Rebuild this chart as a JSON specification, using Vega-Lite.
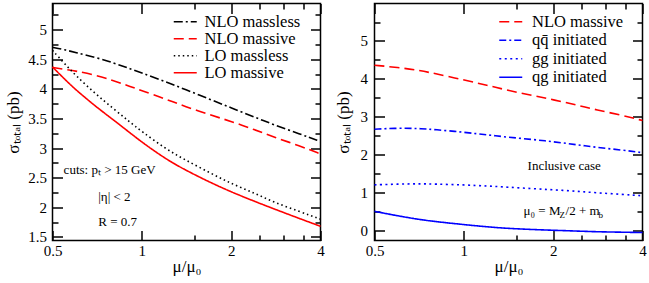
{
  "$schema": "https://vega.github.io/schema/vega-lite/v6.json",
  "padding": {"left": 3.5, "top": 1.5, "right": 0, "bottom": 0},
  "background": "white",
  "spacing": 54,
  "bounds": "flush",
  "config": {
    "view": {"stroke": "#000", "strokeWidth": 1.5},
    "axis": {"labelFont": "'Liberation Serif', serif", "labelFontSize": 15, "labelColor": "#000", "titleFont": "'Liberation Serif', serif", "titleFontSize": 17, "titleFontWeight": "normal", "titleColor": "#000", "tickColor": "#000", "tickWidth": 1.5, "domain": false, "grid": false, "labelFlush": false, "format": "~g"}
  },
  "resolve": {"scale": {"color": "independent", "strokeDash": "independent"}, "legend": {"color": "independent", "strokeDash": "independent"}},
  "datasets": {
    "left": [
      {"mu": 0.5, "sigma": 4.70, "series": "NLO massless"}, {"mu": 0.55, "sigma": 4.66, "series": "NLO massless"}, {"mu": 0.6, "sigma": 4.61, "series": "NLO massless"}, {"mu": 0.7, "sigma": 4.53, "series": "NLO massless"}, {"mu": 0.8, "sigma": 4.44, "series": "NLO massless"}, {"mu": 0.9, "sigma": 4.35, "series": "NLO massless"}, {"mu": 1, "sigma": 4.27, "series": "NLO massless"}, {"mu": 1.2, "sigma": 4.12, "series": "NLO massless"}, {"mu": 1.4, "sigma": 3.99, "series": "NLO massless"}, {"mu": 1.7, "sigma": 3.82, "series": "NLO massless"}, {"mu": 2, "sigma": 3.68, "series": "NLO massless"}, {"mu": 2.4, "sigma": 3.52, "series": "NLO massless"}, {"mu": 2.8, "sigma": 3.39, "series": "NLO massless"}, {"mu": 3.4, "sigma": 3.24, "series": "NLO massless"}, {"mu": 4, "sigma": 3.11, "series": "NLO massless"},
      {"mu": 0.5, "sigma": 4.36, "series": "NLO massive"}, {"mu": 0.55, "sigma": 4.33, "series": "NLO massive"}, {"mu": 0.6, "sigma": 4.30, "series": "NLO massive"}, {"mu": 0.7, "sigma": 4.23, "series": "NLO massive"}, {"mu": 0.8, "sigma": 4.14, "series": "NLO massive"}, {"mu": 0.9, "sigma": 4.05, "series": "NLO massive"}, {"mu": 1, "sigma": 3.97, "series": "NLO massive"}, {"mu": 1.2, "sigma": 3.83, "series": "NLO massive"}, {"mu": 1.4, "sigma": 3.70, "series": "NLO massive"}, {"mu": 1.7, "sigma": 3.56, "series": "NLO massive"}, {"mu": 2, "sigma": 3.45, "series": "NLO massive"}, {"mu": 2.4, "sigma": 3.31, "series": "NLO massive"}, {"mu": 2.8, "sigma": 3.18, "series": "NLO massive"}, {"mu": 3.4, "sigma": 3.04, "series": "NLO massive"}, {"mu": 4, "sigma": 2.90, "series": "NLO massive"},
      {"mu": 0.5, "sigma": 4.65, "series": "LO massless"}, {"mu": 0.55, "sigma": 4.42, "series": "LO massless"}, {"mu": 0.6, "sigma": 4.22, "series": "LO massless"}, {"mu": 0.7, "sigma": 3.91, "series": "LO massless"}, {"mu": 0.8, "sigma": 3.67, "series": "LO massless"}, {"mu": 0.9, "sigma": 3.46, "series": "LO massless"}, {"mu": 1, "sigma": 3.28, "series": "LO massless"}, {"mu": 1.2, "sigma": 2.99, "series": "LO massless"}, {"mu": 1.4, "sigma": 2.80, "series": "LO massless"}, {"mu": 1.7, "sigma": 2.58, "series": "LO massless"}, {"mu": 2, "sigma": 2.40, "series": "LO massless"}, {"mu": 2.4, "sigma": 2.24, "series": "LO massless"}, {"mu": 2.8, "sigma": 2.08, "series": "LO massless"}, {"mu": 3.4, "sigma": 1.93, "series": "LO massless"}, {"mu": 4, "sigma": 1.80, "series": "LO massless"},
      {"mu": 0.5, "sigma": 4.37, "series": "LO massive"}, {"mu": 0.55, "sigma": 4.16, "series": "LO massive"}, {"mu": 0.6, "sigma": 3.98, "series": "LO massive"}, {"mu": 0.7, "sigma": 3.70, "series": "LO massive"}, {"mu": 0.8, "sigma": 3.48, "series": "LO massive"}, {"mu": 0.9, "sigma": 3.28, "series": "LO massive"}, {"mu": 1, "sigma": 3.10, "series": "LO massive"}, {"mu": 1.2, "sigma": 2.82, "series": "LO massive"}, {"mu": 1.4, "sigma": 2.63, "series": "LO massive"}, {"mu": 1.7, "sigma": 2.42, "series": "LO massive"}, {"mu": 2, "sigma": 2.26, "series": "LO massive"}, {"mu": 2.4, "sigma": 2.10, "series": "LO massive"}, {"mu": 2.8, "sigma": 1.97, "series": "LO massive"}, {"mu": 3.4, "sigma": 1.81, "series": "LO massive"}, {"mu": 4, "sigma": 1.68, "series": "LO massive"}
    ],
    "right": [
      {"mu": 0.5, "sigma": 4.36, "series": "NLO massive"}, {"mu": 0.6, "sigma": 4.30, "series": "NLO massive"}, {"mu": 0.7, "sigma": 4.23, "series": "NLO massive"}, {"mu": 0.8, "sigma": 4.14, "series": "NLO massive"}, {"mu": 1, "sigma": 3.97, "series": "NLO massive"}, {"mu": 1.2, "sigma": 3.83, "series": "NLO massive"}, {"mu": 1.4, "sigma": 3.70, "series": "NLO massive"}, {"mu": 1.7, "sigma": 3.56, "series": "NLO massive"}, {"mu": 2, "sigma": 3.45, "series": "NLO massive"}, {"mu": 2.4, "sigma": 3.31, "series": "NLO massive"}, {"mu": 2.8, "sigma": 3.18, "series": "NLO massive"}, {"mu": 3.4, "sigma": 3.04, "series": "NLO massive"}, {"mu": 4, "sigma": 2.90, "series": "NLO massive"},
      {"mu": 0.5, "sigma": 2.67, "series": "qq̄ initiated"}, {"mu": 0.6, "sigma": 2.70, "series": "qq̄ initiated"}, {"mu": 0.7, "sigma": 2.69, "series": "qq̄ initiated"}, {"mu": 0.8, "sigma": 2.66, "series": "qq̄ initiated"}, {"mu": 1, "sigma": 2.59, "series": "qq̄ initiated"}, {"mu": 1.2, "sigma": 2.52, "series": "qq̄ initiated"}, {"mu": 1.4, "sigma": 2.46, "series": "qq̄ initiated"}, {"mu": 1.7, "sigma": 2.40, "series": "qq̄ initiated"}, {"mu": 2, "sigma": 2.34, "series": "qq̄ initiated"}, {"mu": 2.4, "sigma": 2.26, "series": "qq̄ initiated"}, {"mu": 2.8, "sigma": 2.19, "series": "qq̄ initiated"}, {"mu": 3.4, "sigma": 2.12, "series": "qq̄ initiated"}, {"mu": 4, "sigma": 2.05, "series": "qq̄ initiated"},
      {"mu": 0.5, "sigma": 1.20, "series": "gg initiated"}, {"mu": 0.6, "sigma": 1.22, "series": "gg initiated"}, {"mu": 0.7, "sigma": 1.23, "series": "gg initiated"}, {"mu": 0.8, "sigma": 1.22, "series": "gg initiated"}, {"mu": 1, "sigma": 1.20, "series": "gg initiated"}, {"mu": 1.2, "sigma": 1.17, "series": "gg initiated"}, {"mu": 1.4, "sigma": 1.14, "series": "gg initiated"}, {"mu": 1.7, "sigma": 1.10, "series": "gg initiated"}, {"mu": 2, "sigma": 1.07, "series": "gg initiated"}, {"mu": 2.4, "sigma": 1.03, "series": "gg initiated"}, {"mu": 2.8, "sigma": 0.99, "series": "gg initiated"}, {"mu": 3.4, "sigma": 0.95, "series": "gg initiated"}, {"mu": 4, "sigma": 0.91, "series": "gg initiated"},
      {"mu": 0.5, "sigma": 0.50, "series": "qg initiated"}, {"mu": 0.6, "sigma": 0.38, "series": "qg initiated"}, {"mu": 0.7, "sigma": 0.29, "series": "qg initiated"}, {"mu": 0.8, "sigma": 0.23, "series": "qg initiated"}, {"mu": 1, "sigma": 0.15, "series": "qg initiated"}, {"mu": 1.2, "sigma": 0.09, "series": "qg initiated"}, {"mu": 1.4, "sigma": 0.05, "series": "qg initiated"}, {"mu": 1.7, "sigma": 0.02, "series": "qg initiated"}, {"mu": 2, "sigma": 0.00, "series": "qg initiated"}, {"mu": 2.4, "sigma": -0.02, "series": "qg initiated"}, {"mu": 2.8, "sigma": -0.04, "series": "qg initiated"}, {"mu": 3.4, "sigma": -0.05, "series": "qg initiated"}, {"mu": 4, "sigma": -0.06, "series": "qg initiated"}
    ],
    "leftNotes": [
      {"mu": 0.545, "sigma": 2.63, "note": "cuts:  pₜ > 15 GeV"},
      {"mu": 0.713, "sigma": 2.18, "note": "|η| < 2"},
      {"mu": 0.713, "sigma": 1.76, "note": "R = 0.7"}
    ],
    "rightNotes": [
      {"mu": 1.64, "sigma": 1.70, "note": "Inclusive case"}
    ],
    "muNote": [
      {"mu": 1.59, "sigma": 0.52}
    ]
  },
  "hconcat": [
    {
      "width": 268,
      "height": 237,
      "resolve": {"axis": {"x": "independent", "y": "independent"}},
      "layer": [
        {
          "data": {"name": "left"},
          "mark": {"type": "line", "strokeWidth": 1.6, "interpolate": "basis"},
          "encoding": {
            "x": {"field": "mu", "type": "quantitative", "scale": {"type": "log", "domain": [0.5, 4], "nice": false}, "axis": {"orient": "bottom", "values": [0.5, 1, 2, 4], "ticks": false, "tickSize": 0, "labelPadding": 3, "title": "μ/μ₀", "titlePadding": 0}},
            "y": {"field": "sigma", "type": "quantitative", "scale": {"domain": [1.44, 5.44], "nice": false, "zero": false}, "axis": {"orient": "left", "values": [1.5, 2, 2.5, 3, 3.5, 4, 4.5, 5], "ticks": false, "tickSize": 0, "labelPadding": 6, "title": "σₜₒₜₐₗ (pb)", "titlePadding": 5}},
            "color": {"field": "series", "type": "nominal", "scale": {"domain": ["NLO massless", "NLO massive", "LO massless", "LO massive"], "range": ["#000000", "#ff0000", "#000000", "#ff0000"]},
              "legend": {"title": null, "orient": "none", "legendX": 124.5, "legendY": 10, "symbolType": "M-2,0L2,0", "symbolSize": 132, "symbolStrokeWidth": 1.6, "labelFont": "'Liberation Serif', serif", "labelFontSize": 16.5, "labelColor": "#000", "padding": 0, "rowPadding": 0, "labelOffset": 11}},
            "strokeDash": {"field": "series", "type": "nominal", "scale": {"domain": ["NLO massless", "NLO massive", "LO massless", "LO massive"], "range": [[9, 3, 2, 3], [10, 5], [1.5, 3], [1, 0]]},
              "legend": {"title": null, "orient": "none", "legendX": 124.5, "legendY": 10, "symbolType": "M-2,0L2,0", "symbolSize": 132, "symbolStrokeWidth": 1.6, "labelFont": "'Liberation Serif', serif", "labelFontSize": 16.5, "labelColor": "#000", "padding": 0, "rowPadding": 0, "labelOffset": 11}}
          }
        },
        {
          "data": {"name": "left"},
          "mark": {"type": "line", "opacity": 0},
          "encoding": {
            "x": {"field": "mu", "type": "quantitative", "axis": {"orient": "bottom", "values": [0.5, 1, 2, 4], "tickSize": 10, "offset": -10, "labels": false, "title": null}},
            "y": {"field": "sigma", "type": "quantitative", "axis": {"orient": "left", "values": [1.5, 2, 2.5, 3, 3.5, 4, 4.5, 5], "tickSize": 10, "offset": -10, "labels": false, "title": null}}
          }
        },
        {
          "data": {"name": "left"},
          "mark": {"type": "line", "opacity": 0},
          "encoding": {
            "x": {"field": "mu", "type": "quantitative", "axis": {"orient": "bottom", "values": [1.5, 2.5, 3, 3.5], "tickSize": 5.5, "offset": -5.5, "labels": false, "title": null}},
            "y": {"field": "sigma", "type": "quantitative", "axis": {"orient": "left", "values": [1.75, 2.25, 2.75, 3.25, 3.75, 4.25, 4.75, 5.25], "tickSize": 5.5, "offset": -5.5, "labels": false, "title": null}}
          }
        },
        {
          "data": {"name": "left"},
          "mark": {"type": "line", "opacity": 0},
          "encoding": {
            "x": {"field": "mu", "type": "quantitative", "axis": {"orient": "top", "values": [0.5, 1, 2, 4], "tickSize": 10, "offset": -10, "labels": false, "title": null}},
            "y": {"field": "sigma", "type": "quantitative", "axis": {"orient": "right", "values": [1.5, 2, 2.5, 3, 3.5, 4, 4.5, 5], "tickSize": 10, "offset": -10, "labels": false, "title": null}}
          }
        },
        {
          "data": {"name": "left"},
          "mark": {"type": "line", "opacity": 0},
          "encoding": {
            "x": {"field": "mu", "type": "quantitative", "axis": {"orient": "top", "values": [1.5, 2.5, 3, 3.5], "tickSize": 5.5, "offset": -5.5, "labels": false, "title": null}},
            "y": {"field": "sigma", "type": "quantitative", "axis": {"orient": "right", "values": [1.75, 2.25, 2.75, 3.25, 3.75, 4.25, 4.75, 5.25], "tickSize": 5.5, "offset": -5.5, "labels": false, "title": null}}
          }
        },
        {
          "data": {"name": "leftNotes"},
          "mark": {"type": "text", "align": "left", "baseline": "middle", "font": "'Liberation Serif', serif", "fontSize": 13, "color": "#000"},
          "encoding": {
            "x": {"field": "mu", "type": "quantitative", "axis": null},
            "y": {"field": "sigma", "type": "quantitative", "axis": null},
            "text": {"field": "note"}
          }
        }
      ]
    },
    {
      "width": 268,
      "height": 237,
      "resolve": {"axis": {"x": "independent", "y": "independent"}},
      "layer": [
        {
          "data": {"name": "right"},
          "mark": {"type": "line", "strokeWidth": 1.6, "interpolate": "basis"},
          "encoding": {
            "x": {"field": "mu", "type": "quantitative", "scale": {"type": "log", "domain": [0.5, 4], "nice": false}, "axis": {"orient": "bottom", "values": [0.5, 1, 2, 4], "ticks": false, "tickSize": 0, "labelPadding": 3, "title": "μ/μ₀", "titlePadding": 0}},
            "y": {"field": "sigma", "type": "quantitative", "scale": {"domain": [-0.27, 5.99], "nice": false, "zero": false}, "axis": {"orient": "left", "values": [0, 1, 2, 3, 4, 5], "ticks": false, "tickSize": 0, "labelPadding": 7, "title": "σₜₒₜₐₗ (pb)", "titlePadding": 8}},
            "color": {"field": "series", "type": "nominal", "scale": {"domain": ["NLO massive", "qq̄ initiated", "gg initiated", "qg initiated"], "range": ["#ff0000", "#0000ff", "#0000ff", "#0000ff"]},
              "legend": {"title": null, "orient": "none", "legendX": 128, "legendY": 10, "symbolType": "M-2,0L2,0", "symbolSize": 132, "symbolStrokeWidth": 1.6, "labelFont": "'Liberation Serif', serif", "labelFontSize": 16.5, "labelColor": "#000", "padding": 0, "rowPadding": 1.5, "labelOffset": 13}},
            "strokeDash": {"field": "series", "type": "nominal", "scale": {"domain": ["NLO massive", "qq̄ initiated", "gg initiated", "qg initiated"], "range": [[10, 5], [7, 3, 2, 3], [2, 3.5], [1, 0]]},
              "legend": {"title": null, "orient": "none", "legendX": 128, "legendY": 10, "symbolType": "M-2,0L2,0", "symbolSize": 132, "symbolStrokeWidth": 1.6, "labelFont": "'Liberation Serif', serif", "labelFontSize": 16.5, "labelColor": "#000", "padding": 0, "rowPadding": 1.5, "labelOffset": 13}}
          }
        },
        {
          "data": {"name": "right"},
          "mark": {"type": "line", "opacity": 0},
          "encoding": {
            "x": {"field": "mu", "type": "quantitative", "axis": {"orient": "bottom", "values": [0.5, 1, 2, 4], "tickSize": 10, "offset": -10, "labels": false, "title": null}},
            "y": {"field": "sigma", "type": "quantitative", "axis": {"orient": "left", "values": [0, 1, 2, 3, 4, 5], "tickSize": 10, "offset": -10, "labels": false, "title": null}}
          }
        },
        {
          "data": {"name": "right"},
          "mark": {"type": "line", "opacity": 0},
          "encoding": {
            "x": {"field": "mu", "type": "quantitative", "axis": {"orient": "bottom", "values": [1.5, 2.5, 3, 3.5], "tickSize": 5.5, "offset": -5.5, "labels": false, "title": null}},
            "y": {"field": "sigma", "type": "quantitative", "axis": {"orient": "left", "values": [0.5, 1.5, 2.5, 3.5, 4.5, 5.5], "tickSize": 5.5, "offset": -5.5, "labels": false, "title": null}}
          }
        },
        {
          "data": {"name": "right"},
          "mark": {"type": "line", "opacity": 0},
          "encoding": {
            "x": {"field": "mu", "type": "quantitative", "axis": {"orient": "top", "values": [0.5, 1, 2, 4], "tickSize": 10, "offset": -10, "labels": false, "title": null}},
            "y": {"field": "sigma", "type": "quantitative", "axis": {"orient": "right", "values": [0, 1, 2, 3, 4, 5], "tickSize": 10, "offset": -10, "labels": false, "title": null}}
          }
        },
        {
          "data": {"name": "right"},
          "mark": {"type": "line", "opacity": 0},
          "encoding": {
            "x": {"field": "mu", "type": "quantitative", "axis": {"orient": "top", "values": [1.5, 2.5, 3, 3.5], "tickSize": 5.5, "offset": -5.5, "labels": false, "title": null}},
            "y": {"field": "sigma", "type": "quantitative", "axis": {"orient": "right", "values": [0.5, 1.5, 2.5, 3.5, 4.5, 5.5], "tickSize": 5.5, "offset": -5.5, "labels": false, "title": null}}
          }
        },
        {
          "data": {"name": "rightNotes"},
          "mark": {"type": "text", "align": "left", "baseline": "middle", "font": "'Liberation Serif', serif", "fontSize": 13, "color": "#000"},
          "encoding": {
            "x": {"field": "mu", "type": "quantitative", "axis": null},
            "y": {"field": "sigma", "type": "quantitative", "axis": null},
            "text": {"field": "note"}
          }
        },
        {
          "data": {"name": "muNote"},
          "mark": {"type": "text", "align": "left", "baseline": "middle", "font": "'Liberation Serif', serif", "fontSize": 13, "color": "#000", "text": "μ₀ = M"},
          "encoding": {
            "x": {"field": "mu", "type": "quantitative", "axis": null},
            "y": {"field": "sigma", "type": "quantitative", "axis": null}
          }
        },
        {
          "data": {"name": "muNote"},
          "mark": {"type": "text", "align": "left", "baseline": "middle", "font": "'Liberation Serif', serif", "fontSize": 9, "color": "#000", "text": "Z", "dx": 36, "dy": 4},
          "encoding": {
            "x": {"field": "mu", "type": "quantitative", "axis": null},
            "y": {"field": "sigma", "type": "quantitative", "axis": null}
          }
        },
        {
          "data": {"name": "muNote"},
          "mark": {"type": "text", "align": "left", "baseline": "middle", "font": "'Liberation Serif', serif", "fontSize": 13, "color": "#000", "text": "/2 + m", "dx": 42},
          "encoding": {
            "x": {"field": "mu", "type": "quantitative", "axis": null},
            "y": {"field": "sigma", "type": "quantitative", "axis": null}
          }
        },
        {
          "data": {"name": "muNote"},
          "mark": {"type": "text", "align": "left", "baseline": "middle", "font": "'Liberation Serif', serif", "fontSize": 9, "color": "#000", "text": "b", "dx": 75, "dy": 4},
          "encoding": {
            "x": {"field": "mu", "type": "quantitative", "axis": null},
            "y": {"field": "sigma", "type": "quantitative", "axis": null}
          }
        }
      ]
    }
  ]
}
